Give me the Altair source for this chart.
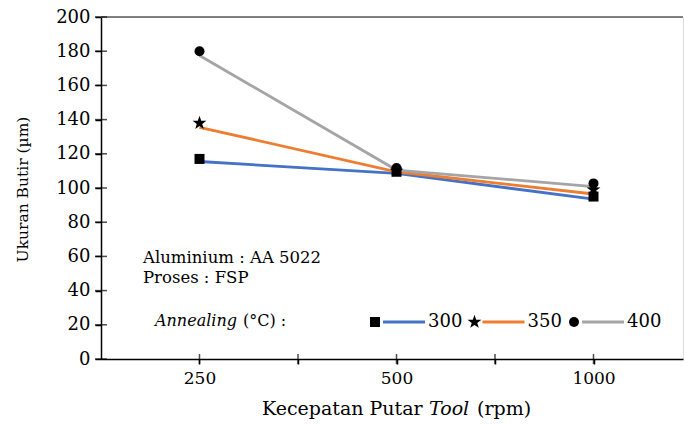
import math
import altair as alt
import pandas as pd

# ---------------- data ----------------
speeds = ["250", "500", "1000"]          # Kecepatan putar tool (rpm)
temps = ["300", "350", "400"]            # Annealing (°C)
line_300 = [115.5, 108.5, 93.5]
line_350 = [135.5, 109.5, 96.5]
line_400 = [177.5, 110.5, 100.8]
pts_300 = [117, 109.5, 95]
pts_350 = [138, 110, 99]
pts_400 = [180, 111.7, 102.7]
y_ticks = [0, 20, 40, 60, 80, 100, 120, 140, 160, 180, 200]
x_ticks = [1, 1.5, 2, 2.5, 3]

colors = ["#4472C4", "#ED7D31", "#A5A5A5"]
FONT = "DejaVu Serif"

# star symbol path
R, r = 1.45, 0.58
pts = []
for k in range(10):
    ang = math.radians(-90 + k * 36)
    rad = R if k % 2 == 0 else r
    pts.append(f"{rad*math.cos(ang):.3f},{rad*math.sin(ang):.3f}")
star = "M" + "L".join(pts) + "Z"
shapes = ["square", star, "circle"]

W, H = 582, 342

rows_l, rows_p = [], []
for t, lv, pv in zip(temps, [line_300, line_350, line_400], [pts_300, pts_350, pts_400]):
    for i, s in enumerate(speeds):
        rows_l.append({"temp": t, "idx": i + 1, "speed": s, "val": lv[i]})
        rows_p.append({"temp": t, "idx": i + 1, "speed": s, "val": pv[i]})
df_line = pd.DataFrame(rows_l)
df_pts = pd.DataFrame(rows_p)

label_expr = " : ".join(
    f"datum.value == {i + 1} ? '{s}'" for i, s in enumerate(speeds)
) + " : ''"

xs = alt.Scale(domain=[0.5, 0.5 + W / 197.0], nice=False, zero=False)
ys = alt.Scale(domain=[0, 200], nice=False)
cscale = alt.Scale(domain=temps, range=colors)
sscale = alt.Scale(domain=temps, range=shapes)

x_axis = alt.Axis(values=x_ticks, labelExpr=label_expr, title=None,
                  grid=False, labelPadding=6, labelFontSize=17,
                  labelOverlap=False,
                  labelFont=FONT, labelColor="black", domainColor="black",
                  domainWidth=1.5, tickColor="black", tickWidth=1.5, tickSize=5)
y_axis = alt.Axis(values=y_ticks, title="Ukuran Butir (µm)", grid=False,
                  labelOverlap=False, labelFlush=False,
                  labelFontSize=18, labelFont=FONT, labelColor="black",
                  labelPadding=5, domainColor="black", domainWidth=1.5,
                  tickColor="black", tickWidth=1.5, tickSize=6,
                  titleFont=FONT, titleFontSize=15.5, titleFontWeight="normal",
                  titleColor="black", titleX=-71, titleY=172)

lines = alt.Chart(df_line).mark_line(strokeWidth=2.8).encode(
    x=alt.X("idx:Q", scale=xs, axis=x_axis),
    y=alt.Y("val:Q", scale=ys, axis=y_axis),
    color=alt.Color("temp:N", scale=cscale, legend=None),
    detail="temp:N",
)
points = alt.Chart(df_pts).mark_point(filled=True, color="black", opacity=1, size=100).encode(
    x=alt.X("idx:Q", axis=x_axis),
    y=alt.Y("val:Q", axis=y_axis),
    shape=alt.Shape("temp:N", scale=sscale, legend=None),
)

# inward tick halves
ytick_df = pd.DataFrame({"val": y_ticks})
yticks_in = alt.Chart(ytick_df).mark_tick(color="black", thickness=1.5, size=12, orient="horizontal").encode(
    y=alt.Y("val:Q", axis=y_axis), x=alt.value(0))
xtick_df = pd.DataFrame({"idx": x_ticks})
xticks_in = alt.Chart(xtick_df).mark_tick(color="black", thickness=1.5, size=10, orient="vertical").encode(
    x=alt.X("idx:Q", axis=x_axis), y=alt.value(H))

top_border = alt.Chart(pd.DataFrame({"val": [200]})).mark_rule(color="#5a5a5a", strokeWidth=1.5).encode(
    y=alt.Y("val:Q", axis=y_axis), x=alt.value(0), x2=alt.value(W))

# legend (drawn in pixel space)
leg_x0, leg_dx, leg_y = 274, 99.5, 305
leg = pd.DataFrame({
    "temp": temps,
    "sx": [leg_x0 + i * leg_dx for i in range(3)],
    "lx1": [leg_x0 + 8 + i * leg_dx for i in range(3)],
    "lx2": [leg_x0 + 50 + i * leg_dx for i in range(3)],
    "tx": [leg_x0 + 53 + i * leg_dx for i in range(3)],
})
leg_sym = alt.Chart(leg).mark_point(filled=True, color="black", opacity=1, size=100).encode(
    x=alt.X("sx:Q", scale=None), y=alt.value(leg_y),
    shape=alt.Shape("temp:N", scale=sscale, legend=None))
leg_line = alt.Chart(leg).mark_rule(strokeWidth=2.8).encode(
    x=alt.X("lx1:Q", scale=None), x2="lx2:Q", y=alt.value(leg_y),
    color=alt.Color("temp:N", scale=cscale, legend=None))
leg_txt = alt.Chart(leg).mark_text(align="left", baseline="middle", font=FONT, fontSize=18,
                                   color="black").encode(
    x=alt.X("tx:Q", scale=None), y=alt.value(leg_y), text="temp:N")


def txt(s, x, y, size=15, style="normal", align="left"):
    return alt.Chart(pd.DataFrame({"t": [s]})).mark_text(
        align=align, baseline="middle", font=FONT, fontSize=size, fontStyle=style,
        color="black").encode(x=alt.value(x), y=alt.value(y), text="t:N")


annots = [
    txt("Aluminium : AA 5022", 42, 241, size=16.5),
    txt("Proses : FSP", 42, 261, size=16.5),
    txt("Annealing", 54, 304, size=16, style="italic"),
    txt("(°C) :", 142, 304, size=16),
    txt("Kecepatan Putar", 161, 392, size=19),
    txt("Tool", 328, 392, size=19, style="italic"),
    txt("(rpm)", 376, 392, size=19),
]

chart = alt.layer(
    lines, top_border, yticks_in, xticks_in, points,
    leg_line, leg_sym, leg_txt, *annots
).properties(
    width=W, height=H,
    padding={"left": 101, "top": 17, "right": 1, "bottom": 66},
    autosize=alt.AutoSizeParams(type="none"),
).configure_view(stroke=None).configure_axis(labelOverlap=False).configure(background="white")

chart.save("out.html", embed_options={"renderer": "svg", "actions": False})
